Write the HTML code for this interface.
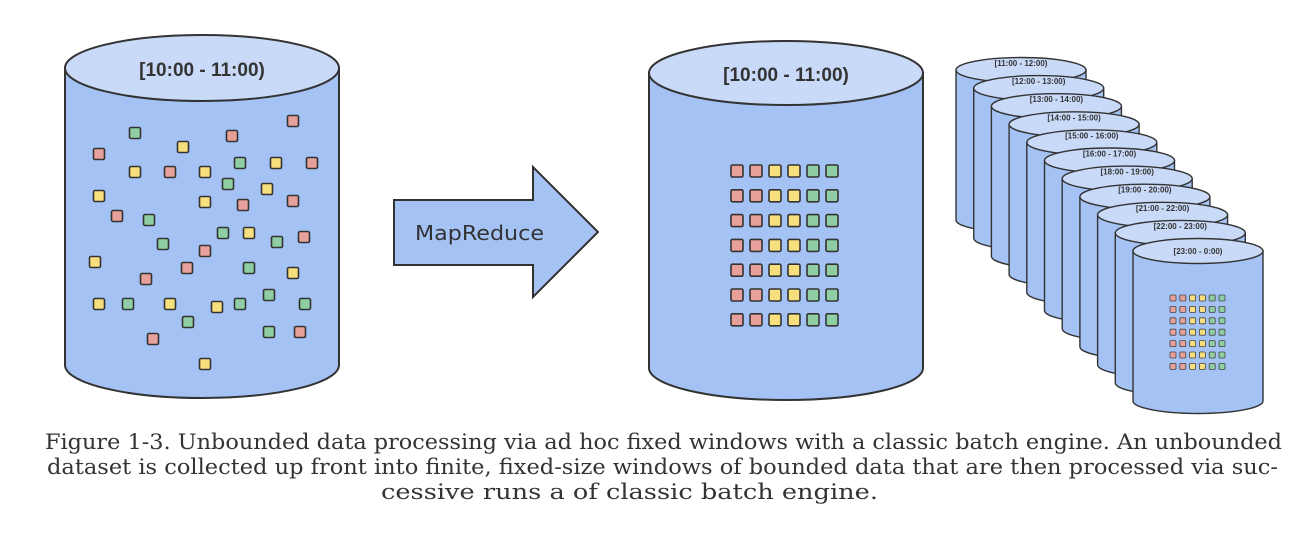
<!DOCTYPE html>
<html><head><meta charset="utf-8"><style>
html,body{margin:0;padding:0;background:#fff;width:1310px;height:542px;overflow:hidden}
svg{display:block}
</style></head><body>
<svg id="s" width="1310" height="542" viewBox="0 0 1310 542" xmlns="http://www.w3.org/2000/svg">
<g stroke="#333" stroke-width="2">
<path d="M65 68 L65 365 A137 33 0 0 0 339 365 L339 68 Z" fill="#a4c2f4"/>
<ellipse cx="202" cy="68" rx="137" ry="33" fill="#c9daf8"/>
<path d="M394 200 L533 200 L533 167 L598 232 L533 297 L533 265 L394 265 Z" fill="#a4c2f4"/>
<path d="M649 73 L649 368 A137 32 0 0 0 923 368 L923 73 Z" fill="#a4c2f4"/>
<ellipse cx="786" cy="73" rx="137" ry="32" fill="#c9daf8"/>
</g>
<g font-family="Liberation Sans, sans-serif" font-weight="bold" fill="#333" text-anchor="middle">
<text x="202" y="76" font-size="19">[10:00 - 11:00)</text>
<text x="786" y="81" font-size="19">[10:00 - 11:00)</text>
</g>
<text x="415" y="240" font-family="DejaVu Sans, sans-serif" font-size="20" fill="#333" textLength="129" lengthAdjust="spacingAndGlyphs">MapReduce</text>
<g id="stack"></g>
<g id="sq" stroke="#333" stroke-width="1.6"></g>
<g font-family="DejaVu Serif, Liberation Serif, serif" font-size="21" fill="#333">
<text x="45" y="449" textLength="1237" lengthAdjust="spacingAndGlyphs">Figure 1-3. Unbounded data processing via ad hoc fixed windows with a classic batch engine. An unbounded</text>
<text x="47" y="474" textLength="1231" lengthAdjust="spacingAndGlyphs">dataset is collected up front into finite, fixed-size windows of bounded data that are then processed via suc-</text>
<text x="381" y="499" textLength="497" lengthAdjust="spacingAndGlyphs">cessive runs a of classic batch engine.</text>
</g>
</svg>
<script>
var NS="http://www.w3.org/2000/svg";
function el(p,t,a,txt){var e=document.createElementNS(NS,t);for(var k in a)e.setAttribute(k,a[k]);if(txt)e.textContent=txt;p.appendChild(e);return e;}
var C={R:"#e8a09a",Y:"#f6df7c",G:"#8fcea3"};
var sq=document.getElementById("sq");
var L=[[135,133,'G'],[293,121,'R'],[232,136,'R'],[183,147,'Y'],[99,154,'R'],[240,163,'G'],[276,163,'Y'],[312,163,'R'],[135,172,'Y'],[170,172,'R'],[205,172,'Y'],[228,184,'G'],[267,189,'Y'],[99,196,'Y'],[205,202,'Y'],[243,205,'R'],[293,201,'R'],[117,216,'R'],[149,220,'G'],[223,233,'G'],[249,233,'Y'],[277,242,'G'],[304,237,'R'],[163,244,'G'],[205,251,'R'],[95,262,'Y'],[187,268,'R'],[249,268,'G'],[293,273,'Y'],[146,279,'R'],[269,295,'G'],[99,304,'Y'],[128,304,'G'],[170,304,'Y'],[217,307,'Y'],[240,304,'G'],[305,304,'G'],[188,322,'G'],[269,332,'G'],[300,332,'R'],[153,339,'R'],[205,364,'Y']];
L.forEach(function(p){el(sq,"rect",{x:p[0]-5.5,y:p[1]-5.5,width:11,height:11,rx:1.5,fill:C[p[2]]});});
var cols="RRYYGG";
for(var r=0;r<7;r++)for(var c=0;c<6;c++)el(sq,"rect",{x:737+c*19-6,y:171+r*24.8-6,width:12,height:12,rx:1.5,fill:C[cols[c]]});
var st=document.getElementById("stack");
var labels=["[11:00 - 12:00)","[12:00 - 13:00)","[13:00 - 14:00)","[14:00 - 15:00)","[15:00 - 16:00)","[16:00 - 17:00)","[18:00 - 19:00)","[19:00 - 20:00)","[21:00 - 22:00)","[22:00 - 23:00)","[23:00 - 0:00)"];
for(var i=0;i<11;i++){
 var x=956+i*17.7,cy=70+i*18.1,w=130,h=150,ry=12.5;
 var g=el(st,"g",{stroke:"#333","stroke-width":1.4});
 el(g,"path",{d:"M"+x+" "+cy+" L"+x+" "+(cy+h)+" A"+(w/2)+" "+ry+" 0 0 0 "+(x+w)+" "+(cy+h)+" L"+(x+w)+" "+cy+" Z",fill:"#a4c2f4"});
 el(g,"ellipse",{cx:x+w/2,cy:cy,rx:w/2,ry:ry,fill:"#c9daf8"});
 el(st,"text",{x:x+w/2,y:cy+(i==10?3:-4),"font-family":"Liberation Sans, sans-serif","font-size":"8","font-weight":"bold",fill:"#333","text-anchor":"middle"},labels[i]);
}
var sg=el(st,"g",{stroke:"#444","stroke-width":0.8});
for(var r=0;r<7;r++)for(var c=0;c<6;c++)el(sg,"rect",{x:1173+c*9.8-3,y:298+r*11.4-3,width:6,height:6,rx:1,fill:C[cols[c]]});
</script>
</body></html>
